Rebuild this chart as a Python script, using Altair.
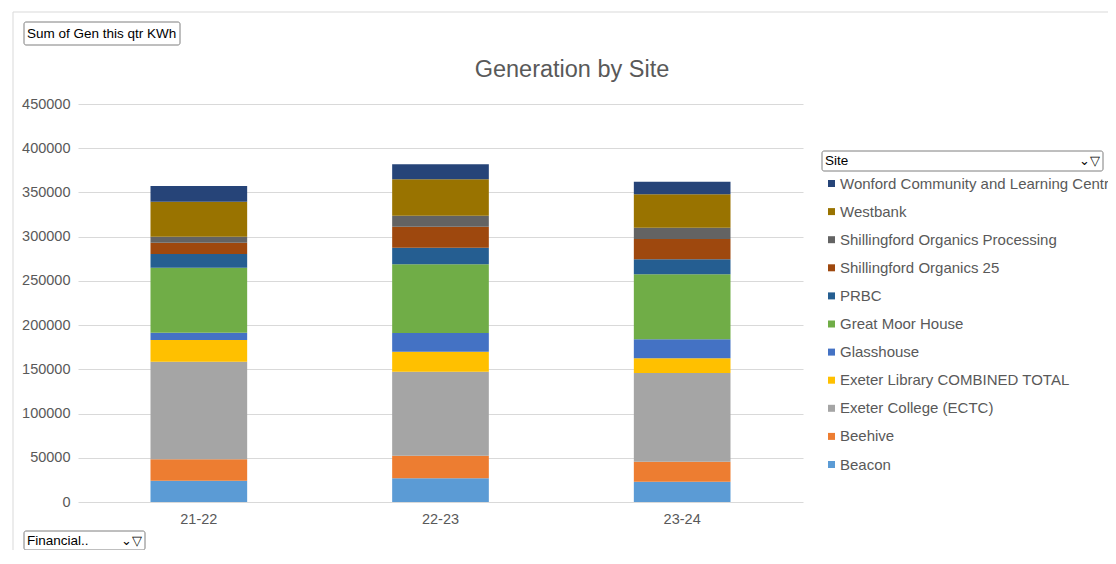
import altair as alt
import pandas as pd

# ---- data ----
years = ["21-22", "22-23", "23-24"]
sites = [
    "Beacon",
    "Beehive",
    "Exeter College (ECTC)",
    "Exeter Library COMBINED TOTAL",
    "Glasshouse",
    "Great Moor House",
    "PRBC",
    "Shillingford Organics 25",
    "Shillingford Organics Processing",
    "Westbank",
    "Wonford Community and Learning Centre",
]
beacon = [24000, 26800, 23000]
beehive = [24200, 25550, 22600]
ectc = [110350, 94975, 100300]
library = [24500, 22600, 16600]
glasshouse = [8250, 21150, 21500]
great_moor = [73500, 77700, 73500]
prbc = [15500, 18750, 17000]
shill_25 = [12800, 23750, 22950]
shill_proc = [6800, 12450, 12750]
westbank = [39600, 41150, 37750]
wonford = [17750, 16950, 14250]
colors = ["#5B9BD5", "#ED7D31", "#A5A5A5", "#FFC000", "#4472C4", "#70AD47",
          "#255E91", "#9E480E", "#636363", "#997300", "#264478"]
y_ticks = [0, 50000, 100000, 150000, 200000, 250000, 300000, 350000, 400000, 450000]
title_text = "Generation by Site"
value_button = "Sum of Gen this qtr KWh"
legend_button = "Site"
axis_button = "Financial.."

series = [beacon, beehive, ectc, library, glasshouse, great_moor, prbc,
          shill_25, shill_proc, westbank, wonford]
rows = []
for i, (site, vals) in enumerate(zip(sites, series)):
    for yr, v in zip(years, vals):
        rows.append({"Year": yr, "Site": site, "Gen": v, "idx": i})
df = pd.DataFrame(rows)

W, H = 725, 398
PL, PT = 70, 96
SVG_W, SVG_H = 1100, 542
FONT = "Liberation Sans"
GREY = "#595959"

bars = alt.Chart(df).mark_bar().encode(
    x=alt.X("Year:N", sort=years, title=None,
            scale=alt.Scale(paddingInner=0.6, paddingOuter=0.3),
            axis=alt.Axis(labelAngle=0, ticks=False, domain=False, labelPadding=10,
                          labelFontSize=14.5, labelColor=GREY, labelFont=FONT, grid=False)),
    y=alt.Y("Gen:Q", stack="zero", title=None,
            scale=alt.Scale(domain=[0, 450000], nice=False),
            axis=alt.Axis(values=y_ticks, format="d", ticks=False, domain=False,
                          labelPadding=8, labelFontSize=14.5, labelColor=GREY,
                          labelFont=FONT, gridColor="#d9d9d9", gridWidth=1)),
    color=alt.Color("Site:N",
                    scale=alt.Scale(domain=sites[::-1], range=colors[::-1]),
                    legend=alt.Legend(orient="none", legendX=746, legendY=72, title=None,
                                      symbolType="square", symbolSize=49, symbolStrokeWidth=0,
                                      labelFontSize=15, labelColor=GREY, labelFont=FONT,
                                      labelOffset=1, rowPadding=12.1, labelLimit=500, padding=0)),
    order=alt.Order("idx:Q", sort="ascending"),
    tooltip=["Site", "Year", "Gen"],
)

one = pd.DataFrame({"t": [title_text]})
title = alt.Chart(one).mark_text(fontSize=23.5, font=FONT, color=GREY, align="center",
                                 baseline="middle").encode(
    text="t:N", x=alt.value(494), y=alt.value(-34))

border = alt.Chart(one).mark_rect(fill=None, stroke="#d9d9d9", strokeWidth=1).encode(
    x=alt.value(-65), x2=alt.value(1200), y=alt.value(-92), y2=alt.value(700))

btn_df = pd.DataFrame({
    "label": [value_button, legend_button, axis_button],
    "x": [-54, 744, -54], "x2": [102, 1025, 67],
    "y": [-82, 47, 427], "y2": [-59, 67, 446],
})
btn_boxes = alt.Chart(btn_df).mark_rect(fill="white", stroke="#7f7f7f", strokeWidth=1,
                                        cornerRadius=2).encode(
    x=alt.X("x:Q", scale=None), x2="x2", y=alt.Y("y:Q", scale=None), y2="y2")
btn_text = alt.Chart(btn_df).mark_text(fontSize=13.5, font=FONT, color="black", align="left",
                                       baseline="middle", dx=3).encode(
    x=alt.X("x:Q", scale=None), y=alt.Y("ymid:Q", scale=None), text="label:N"
).transform_calculate(ymid="(datum.y + datum.y2) / 2")

icon_df = pd.DataFrame({"label": ["Site", "Financial.."], "x2": [1025, 67], "y": [57, 436.5]})
icons = alt.Chart(icon_df).mark_text(fontSize=13, font="DejaVu Sans", color="black",
                                     align="right", baseline="middle", dx=-3).encode(
    x=alt.X("x2:Q", scale=None), y=alt.Y("y:Q", scale=None), text=alt.value("⌄▽"))

chart = alt.layer(border, bars, title, btn_boxes, btn_text, icons).properties(
    width=W, height=H,
    autosize=alt.AutoSizeParams(type="none"),
    padding={"left": PL, "top": PT, "right": SVG_W - PL - W, "bottom": SVG_H - PT - H},
).configure_view(stroke=None)

chart.save("out.html", embed_options={"renderer": "svg", "actions": False})
